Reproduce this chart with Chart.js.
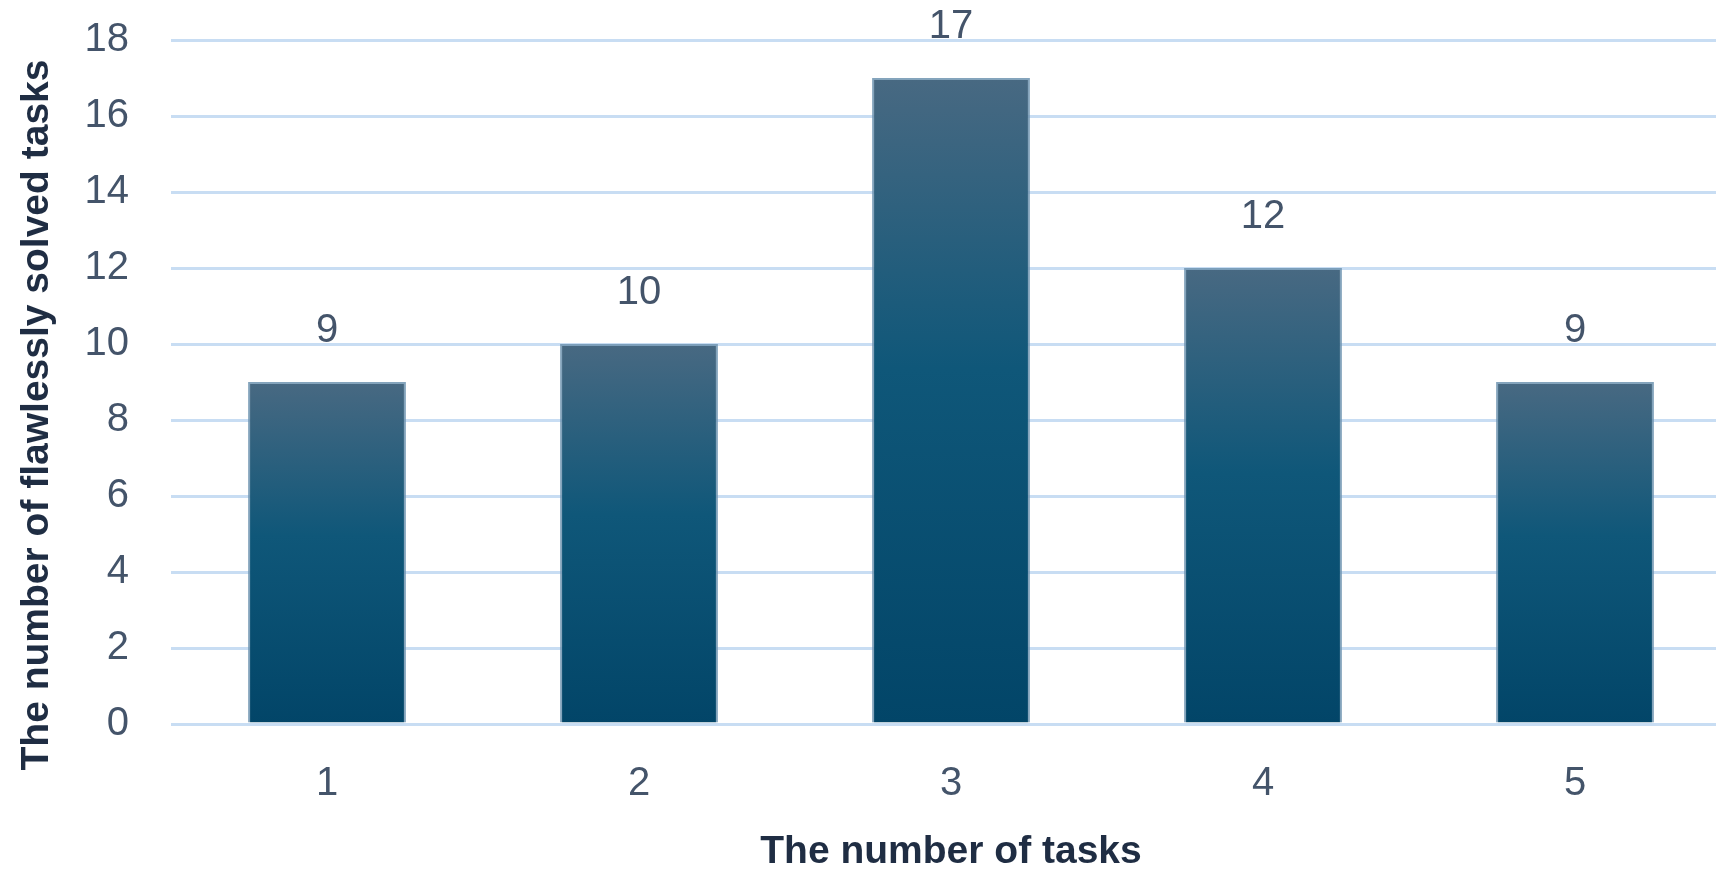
<!DOCTYPE html>
<html>
<head>
<meta charset="utf-8">
<script src="https://cdn.jsdelivr.net/npm/chart.js@4/dist/chart.umd.min.js"></script>
<style>
  html, body { margin: 0; padding: 0; background: #fff; overflow: hidden; }
  #wrap { width: 1740px; height: 874px; }
</style>
</head>
<body>
<div id="wrap"><canvas id="myChart" width="1740" height="874"></canvas></div>
<script>
// chart data
const categories = ["1", "2", "3", "4", "5"];
const solvedCounts = [9, 10, 17, 12, 9];
const yTicks = [0, 2, 4, 6, 8, 10, 12, 14, 16, 18];
const xTitle = "The number of tasks";
const yTitle = "The number of flawlessly solved tasks";

const tickColor = "#44546a";
const titleColor = "#1f2d43";

// each bar gets its own gradient, top to bottom
const barGradient = (context) => {
    const chart = context.chart;
    if (!chart.chartArea || !chart.scales.y) return "#0f5677";
    const yTop = chart.scales.y.getPixelForValue(context.raw);
    const yBottom = chart.scales.y.getPixelForValue(0);
    const g = chart.ctx.createLinearGradient(0, yTop, 0, yBottom);
    g.addColorStop(0, "#486982");
    g.addColorStop(0.45, "#0f5779");
    g.addColorStop(1, "#024568");
    return g;
};

const valueLabels = {
    id: "valueLabels",
    afterDatasetsDraw(chart) {
        const ctx = chart.ctx;
        const meta = chart.getDatasetMeta(0);
        ctx.save();
        ctx.font = "40px 'Liberation Sans', Arial, sans-serif";
        ctx.fillStyle = tickColor;
        ctx.textAlign = "center";
        ctx.textBaseline = "middle";
        meta.data.forEach((bar, i) => {
            ctx.fillText(String(solvedCounts[i]), bar.x, bar.y - 51);
        });
        ctx.restore();
    }
};

const yAxisTitle = {
    id: "yAxisTitle",
    afterDraw(chart) {
        const ctx = chart.ctx;
        ctx.save();
        ctx.translate(37, 415);
        ctx.rotate(-Math.PI / 2);
        ctx.font = "bold 39px 'Liberation Sans', Arial, sans-serif";
        ctx.fillStyle = titleColor;
        ctx.textAlign = "center";
        ctx.textBaseline = "middle";
        ctx.fillText(yTitle, 0, 0);
        ctx.restore();
    }
};

const ctx = document.getElementById("myChart").getContext("2d");
const myChart = new Chart(ctx, {
    type: "bar",
    data: {
        labels: categories,
        datasets: [{
            data: solvedCounts,
            backgroundColor: barGradient,
            borderColor: "rgba(110,148,176,0.85)",
            borderWidth: { top: 2, left: 2, right: 2, bottom: 0 },
            borderSkipped: false,
            categoryPercentage: 1,
            barPercentage: 0.506,
        }],
    },
    options: {
        responsive: false,
        animation: false,
        layout: { padding: { top: 40, right: 9, left: 0, bottom: 0 } },
        plugins: {
            legend: { display: false },
            tooltip: { enabled: false },
        },
        scales: {
            x: {
                grid: { display: false },
                border: { display: false },
                ticks: {
                    color: tickColor,
                    font: { family: "'Liberation Sans', Arial, sans-serif", size: 40 },
                    padding: 28,
                },
                title: {
                    display: true,
                    text: xTitle,
                    color: titleColor,
                    font: { family: "'Liberation Sans', Arial, sans-serif", size: 39, weight: "bold", lineHeight: 1.1 },
                    padding: 0,
                },
                afterFit(scale) { scale.height = 150; },
            },
            y: {
                min: 0,
                max: 18,
                afterBuildTicks(scale) { scale.ticks = yTicks.map(v => ({ value: v })); },
                grid: { color: "#c8ddf3", lineWidth: 3, drawTicks: false },
                border: { display: false },
                ticks: {
                    color: tickColor,
                    font: { family: "'Liberation Sans', Arial, sans-serif", size: 40 },
                    padding: 42,
                },
                afterFit(scale) {
                    scale.width = 171;
                    scale.paddingTop = 0;
                    scale.paddingBottom = 0;
                },
            },
        },
    },
    plugins: [valueLabels, yAxisTitle],
});
</script>
</body>
</html>
